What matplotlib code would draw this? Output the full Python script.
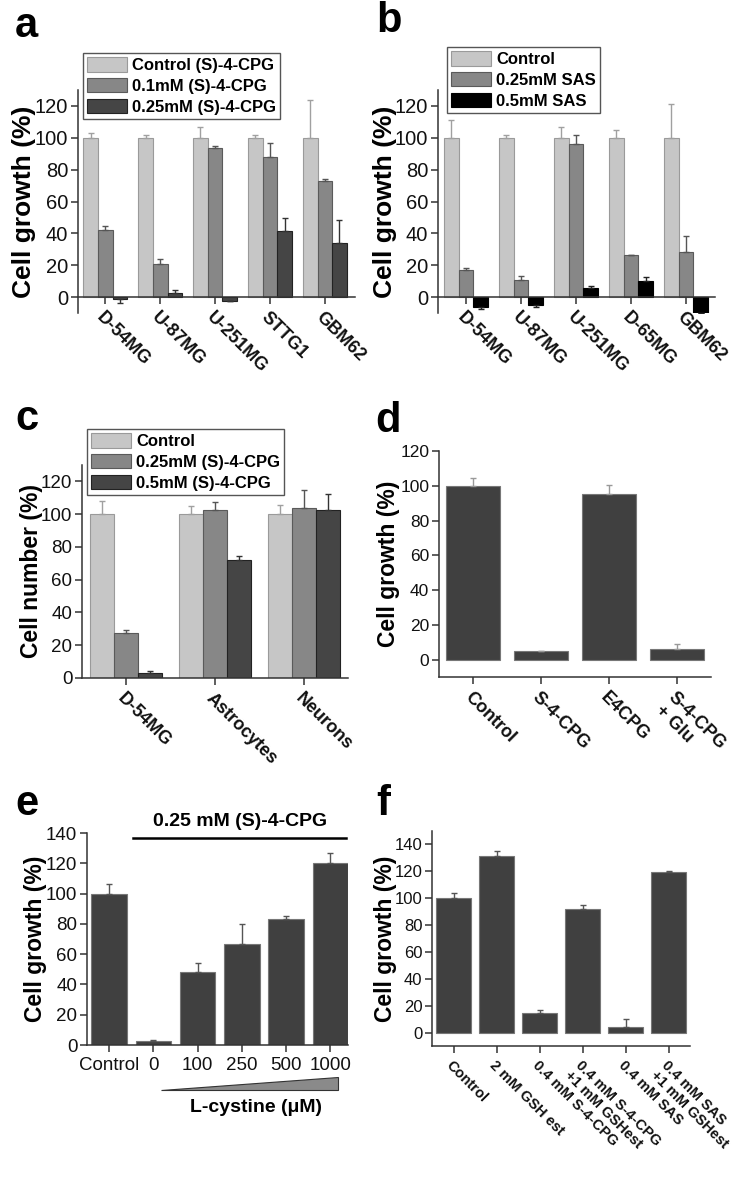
import numpy as np
import matplotlib.pyplot as plt
from matplotlib.patches import Polygon

plt.rcParams['font.family'] = ['Liberation Sans', 'DejaVu Sans']

W, H = 736, 1199

# ---- panel a
a_cells = ['D-54MG', 'U-87MG', 'U-251MG', 'STTG1', 'GBM62']
a_names = ['Control (S)-4-CPG', '0.1mM (S)-4-CPG', '0.25mM (S)-4-CPG']
a_ctrl = [100, 100, 100, 100, 100]
a_ctrl_err = [3, 1.5, 7, 2, 24]
a_low = [42.4, 20.9, 93.3, 87.7, 72.7]
a_low_err = [2, 2.7, 1.7, 9, 1.6]
a_high = [-1.5, 2.7, -2.5, 41.3, 34]
a_high_err = [2, 1.5, 0, 8.4, 14.6]

# ---- panel b
b_cells = ['D-54MG', 'U-87MG', 'U-251MG', 'D-65MG', 'GBM62']
b_names = ['Control', '0.25mM SAS', '0.5mM SAS']
b_ctrl = [100, 100, 100, 100, 100]
b_ctrl_err = [11, 2, 6.5, 5, 21]
b_low = [16.8, 10.5, 95.8, 26.2, 28.3]
b_low_err = [1.5, 2.5, 6, 0.5, 10]
b_high = [-6.3, -5.2, 5.9, 10, -10]
b_high_err = [1, 1, 0.8, 2.5, 0]

# ---- panel c
c_cells = ['D-54MG', 'Astrocytes', 'Neurons']
c_names = ['Control', '0.25mM (S)-4-CPG', '0.5mM (S)-4-CPG']
c_ctrl = [100, 100, 100]
c_ctrl_err = [8, 5, 5.7]
c_low = [27.5, 102.5, 104]
c_low_err = [1.5, 5, 10.7]
c_high = [3, 72.2, 102.4]
c_high_err = [1.5, 2, 10]

# ---- panel d
d_groups = ['Control', 'S-4-CPG', 'E4CPG', 'S-4-CPG\n+ Glu']
d_vals = [100, 4.8, 95.2, 6.1]
d_err = [4.4, 0.4, 5.4, 3]

# ---- panel e
e_groups = ['Control', '0', '100', '250', '500', '1000']
e_vals = [100, 2.6, 48.4, 66.6, 82.9, 120.4]
e_err = [6, 1, 6, 13, 2.6, 6.6]

# ---- panel f
f_groups = ['Control', '2 mM GSH est', '0.4 mM S-4-CPG',
            '0.4 mM S-4-CPG\n+1 mM GSHest', '0.4 mM SAS',
            '0.4 mM SAS\n+1 mM GSHest']
f_vals = [100, 131.4, 14.5, 91.6, 4.4, 119.7]
f_err = [3.5, 4, 2, 3.4, 5.4, 0.5]

fig = plt.figure(figsize=(W / 100, H / 100), dpi=100)


def px_axes(left, top, right, bottom):
    return fig.add_axes([left / W, 1 - bottom / H, (right - left) / W, (bottom - top) / H])


def style(ax, size):
    for s in ['top', 'right']:
        ax.spines[s].set_visible(False)
    for s in ['left', 'bottom']:
        ax.spines[s].set_linewidth(1.1)
        ax.spines[s].set_color('#333333')
    ax.tick_params(direction='out', length=5, width=1.1, color='#333333',
                   labelsize=size, labelcolor='#111111')
    ax.tick_params(axis='y', pad=2)


def one_sided(ax, xs, vals, err, color):
    vals = np.array(vals, dtype=float)
    err = np.array(err, dtype=float)
    up = np.where(vals >= 0, err, 0)
    dn = np.where(vals < 0, err, 0)
    ax.errorbar(xs, vals, yerr=[dn, up], fmt='none', ecolor=color,
                elinewidth=1, capsize=2.5, capthick=1)


def rot_labels(ax, labels, size=13, **kw):
    ax.set_xticklabels(labels, rotation=-45, ha='left', va='top',
                       rotation_mode='anchor', fontweight='bold',
                       fontsize=size, **kw)


def grouped(ax, cats, series, errs, names, colors, edges, ecolors, width):
    x = np.arange(len(cats))
    for i in range(3):
        xs = x + (i - 1) * width
        ax.bar(xs, series[i], width, color=colors[i], edgecolor=edges[i],
               linewidth=0.8, label=names[i])
        one_sided(ax, xs, series[i], errs[i], ecolors[i])
    ax.set_xticks(x)
    rot_labels(ax, cats)


def legend(ax, anchor):
    ax.legend(loc='upper left', bbox_to_anchor=anchor, borderaxespad=0,
              prop={'weight': 'bold', 'size': 12}, handlelength=2.4,
              handleheight=0.95, handletextpad=0.3, labelspacing=0.3,
              borderpad=0.25, fancybox=False, edgecolor='#555555',
              framealpha=1)


def ylabel(ax, text, size, xpos):
    ax.set_ylabel(text, fontsize=size, fontweight='bold')
    ax.yaxis.set_label_coords(xpos, 0.5)


def letter(x, y, s):
    fig.text(x / W, 1 - y / H, s, fontsize=30, fontweight='bold', va='baseline')


grays = ['#c6c6c6', '#878787', '#454545']
gray_edges = ['#9a9a9a', '#5a5a5a', '#222222']
gray_err = ['#a0a0a0', '#555555', '#333333']

# a
ax = px_axes(78, 90, 355, 313)
style(ax, 14.5)
ax.spines['bottom'].set_position(('data', 0))
grouped(ax, a_cells, [a_ctrl, a_low, a_high], [a_ctrl_err, a_low_err, a_high_err],
        a_names, grays, gray_edges, gray_err, 0.267)
ax.set_ylim(-10, 130)
ax.set_xlim(-0.5, 4.55)
ax.set_yticks(range(0, 121, 20))
ylabel(ax, 'Cell growth (%)', 19, -0.15)
legend(ax, (0.018, 1.166))
letter(15, 37, 'a')

# b
ax = px_axes(438, 90, 715, 313)
style(ax, 14.5)
ax.spines['bottom'].set_position(('data', 0))
grouped(ax, b_cells, [b_ctrl, b_low, b_high], [b_ctrl_err, b_low_err, b_high_err],
        b_names, ['#c6c6c6', '#878787', '#000000'],
        ['#9a9a9a', '#5a5a5a', '#000000'], ['#a0a0a0', '#555555', '#222222'], 0.267)
ax.set_ylim(-10, 130)
ax.set_xlim(-0.51, 4.53)
ax.set_yticks(range(0, 121, 20))
ylabel(ax, 'Cell growth (%)', 19, -0.147)
legend(ax, (0.032, 1.193))
letter(376, 32, 'b')

# c
ax = px_axes(82, 465, 348, 678)
style(ax, 13.5)
grouped(ax, c_cells, [c_ctrl, c_low, c_high], [c_ctrl_err, c_low_err, c_high_err],
        c_names, grays, gray_edges, gray_err, 0.27)
ax.set_ylim(0, 130)
ax.set_xlim(-0.5, 2.5)
ax.set_yticks(range(0, 121, 20))
ylabel(ax, 'Cell number (%)', 16.5, -0.146)
legend(ax, (0.019, 1.169))
letter(15, 430, 'c')

dark = '#404040'

# d
ax = px_axes(439, 451, 711, 677)
style(ax, 12.5)
xd = np.arange(len(d_groups))
ax.bar(xd, d_vals, 0.8, color=dark, edgecolor='#777777', linewidth=0.8)
one_sided(ax, xd, d_vals, d_err, '#999999')
ax.set_xticks(xd)
rot_labels(ax, d_groups, 13, linespacing=1.1)
ax.set_ylim(-10, 120)
ax.set_xlim(-0.5, 3.5)
ax.set_yticks(range(0, 121, 20))
ylabel(ax, 'Cell growth (%)', 16.5, -0.143)
letter(375, 432, 'd')

# e
ax = px_axes(87, 833, 348, 1045)
style(ax, 13.5)
xe = np.arange(len(e_groups))
ax.bar(xe, e_vals, 0.8, color=dark, edgecolor='#777777', linewidth=0.8)
one_sided(ax, xe, e_vals, e_err, '#555555')
ax.set_xticks(xe)
ax.set_xticklabels(e_groups, fontsize=13.5)
ax.set_ylim(0, 140)
ax.set_xlim(-0.5, 5.4)
ax.set_yticks(range(0, 141, 20))
ylabel(ax, 'Cell growth (%)', 16.5, -0.152)
ax.plot([xe[1] - 0.46, xe[-1] + 0.36], [137, 137], color='black', lw=1.8,
        clip_on=False)
ax.text(2.95, 142, '0.25 mM (S)-4-CPG', ha='center', va='bottom',
        fontsize=14, fontweight='bold')
ax.add_patch(Polygon([[xe[1] + 0.17, -29.7], [xe[-1] + 0.18, -29.7],
                      [xe[-1] + 0.18, -21]], closed=True, facecolor='#8a8a8a',
                     edgecolor='#333333', lw=0.8, clip_on=False))
ax.text(3.33, -41.5, 'L-cystine (\u03bcM)', ha='center', va='center',
        fontsize=14, fontweight='bold')
letter(15, 815, 'e')

# f
ax = px_axes(432, 831, 690, 1046)
style(ax, 12)
xf = np.arange(len(f_groups))
ax.bar(xf, f_vals, 0.8, color=dark, edgecolor='#777777', linewidth=0.8)
one_sided(ax, xf, f_vals, f_err, '#555555')
ax.set_xticks(xf)
rot_labels(ax, f_groups, 10.5, linespacing=1.05)
ax.set_ylim(-10, 150)
ax.set_xlim(-0.5, 5.5)
ax.set_yticks(range(0, 141, 20))
ylabel(ax, 'Cell growth (%)', 16.5, -0.137)
letter(376, 815, 'f')

fig.savefig('out.png', dpi=100)
